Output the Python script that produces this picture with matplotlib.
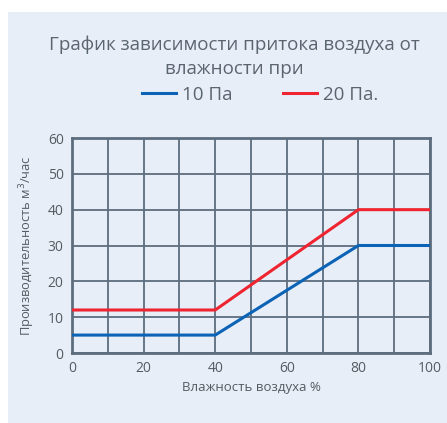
import matplotlib
matplotlib.use("Agg")
import matplotlib.pyplot as plt
from matplotlib.patches import Rectangle

humidity = [0, 40, 80, 100]
flow_10pa = [5, 5, 30, 30]
flow_20pa = [12, 12, 40, 40]
series_labels = ["10 Па", "20 Па."]
title = "График зависимости притока воздуха от\nвлажности при"
xlabel = "Влажность воздуха %"
ylabel = "Производительность м$^3$/час"

plt.rcParams['font.family'] = ['Open Sans', 'DejaVu Sans']
W, H = 447, 423
fig = plt.figure(figsize=(W/100, H/100), dpi=100, facecolor='white')
bg = '#e8eef8'
fig.patches.append(Rectangle((8/W, 0), 1, 1 - 12/H, transform=fig.transFigure,
                             facecolor=bg, edgecolor='none', zorder=-1))

ax = fig.add_axes([72/W, 1 - 353/H, (430-72)/W, (353-138)/H])
ax.set_facecolor(bg)
grid_c = '#5d6d7e'
ax.plot(humidity, flow_10pa, color='#0b63b6', lw=2.2, label=series_labels[0], zorder=3)
ax.plot(humidity, flow_20pa, color='#ee2530', lw=2.2, label=series_labels[1], zorder=3)
ax.set_xlim(0, 100)
ax.set_ylim(0, 60)
ax.set_xticks(range(0, 101, 10))
ax.set_xticklabels([str(v) if v % 20 == 0 else '' for v in range(0, 101, 10)])
ax.set_yticks(range(0, 61, 10))
ax.grid(True, color=grid_c, lw=1.3)
for s in ax.spines.values():
    s.set_color(grid_c)
    s.set_linewidth(2)
ax.tick_params(length=0, labelsize=10, colors='#555b61', pad=6)
ax.set_xlabel(xlabel, fontsize=9.5, color='#555b61', labelpad=3)
ax.set_ylabel(ylabel, fontsize=9.3, color='#555b61', labelpad=8)

fig.text(234/W, 1 - 35/H, title, ha='center', va='top', fontsize=13.5,
         color='#5a6570', linespacing=1.5)
fig.legend(loc='center', bbox_to_anchor=(260/W, 1 - 95/H), ncol=2, frameon=False,
           fontsize=13.5, labelcolor='#5a6570', handlelength=1.8, columnspacing=2.7,
           handletextpad=0.32)
fig.savefig('out.png', dpi=100, facecolor='white')
